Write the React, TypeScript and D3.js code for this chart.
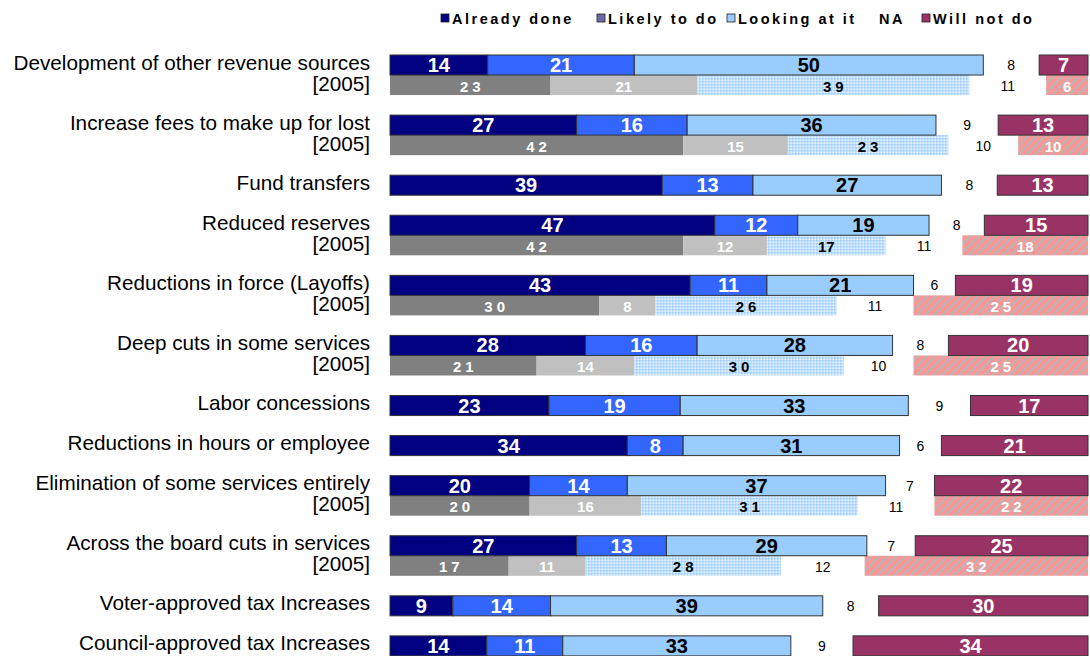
import React from "react";
import * as d3 from "d3";

const categories = [
  "Development of other revenue sources",
  "Increase fees to make up for lost",
  "Fund transfers",
  "Reduced reserves",
  "Reductions in force (Layoffs)",
  "Deep cuts in some services",
  "Labor concessions",
  "Reductions in hours or employee",
  "Elimination of some services entirely",
  "Across the board cuts in services",
  "Voter-approved tax Increases",
  "Council-approved tax Increases",
];

const seriesNames = ["Already done", "Likely to do", "Looking at it", "NA", "Will not do"];

const alreadyDone = [14, 27, 39, 47, 43, 28, 23, 34, 20, 27, 9, 14];
const likelyToDo = [21, 16, 13, 12, 11, 16, 19, 8, 14, 13, 14, 11];
const lookingAtIt = [50, 36, 27, 19, 21, 28, 33, 31, 37, 29, 39, 33];
const naValues = [8, 9, 8, 8, 6, 8, 9, 6, 7, 7, 8, 9];
const willNotDo = [7, 13, 13, 15, 19, 20, 17, 21, 22, 25, 30, 34];

const alreadyDone2005 = [23, 42, null, 42, 30, 21, null, null, 20, 17, null, null];
const likelyToDo2005 = [21, 15, null, 12, 8, 14, null, null, 16, 11, null, null];
const lookingAtIt2005 = [39, 23, null, 17, 26, 30, null, null, 31, 28, null, null];
const na2005 = [11, 10, null, 11, 11, 10, null, null, 11, 12, null, null];
const willNotDo2005 = [6, 10, null, 18, 25, 25, null, null, 22, 32, null, null];

const curFills = ["#000080", "#3366FF", "#99CCFF", "none", "#993366"];
const curText = ["#fff", "#fff", "#000", "#000", "#fff"];
const pastFills = ["#808080", "#C0C0C0", "url(#dots)", "none", "url(#stripes)"];
const pastText = ["#fff", "#fff", "#000", "#000", "#fff"];
const legendFills = ["#000080", "#6B6BA3", "#99CCFF", null, "#993366"];
const legendX = [441, 597, 727, 869, 922];

const FONT = "Arial, 'Liberation Sans', sans-serif";

export default function App() {
  const W = 1090, H = 656;
  const x0 = 390, x1 = 1088;
  const slot = 20.03;
  const top = 55;

  const rows: { cat: number; slotIdx: number }[] = [];
  let s = 0;
  categories.forEach((_, i) => {
    rows.push({ cat: i, slotIdx: s });
    s += alreadyDone2005[i] != null ? 3 : 2;
  });
  const y = d3.scaleLinear().domain([0, 1]).range([top, top + slot]);

  const curSeries = [alreadyDone, likelyToDo, lookingAtIt, naValues, willNotDo];
  const pastSeries = [alreadyDone2005, likelyToDo2005, lookingAtIt2005, na2005, willNotDo2005];

  const renderBar = (vals: number[], yTop: number, past: boolean, key: string) => {
    const total = d3.sum(vals);
    const xs = d3.scaleLinear().domain([0, total]).range([x0, x1]);
    const stack = d3.cumsum(vals);
    return (
      <g key={key}>
        {vals.map((v, k) => {
          const a = xs(stack[k] - v), b = xs(stack[k]);
          const fill = past ? pastFills[k] : curFills[k];
          const cx = (a + b) / 2;
          const cy = yTop + slot / 2;
          let fs: number, fw: string, ls: number;
          if (k === 3) { fs = 14; fw = "normal"; ls = 0; }
          else if (past) { fs = 15; fw = "bold"; ls = (k === 1 || (v < 20 && k !== 0)) ? 0 : 4; }
          else { fs = 20; fw = "bold"; ls = 0; }
          return (
            <g key={k}>
              {fill !== "none" && (
                <rect x={a} y={yTop} width={b - a} height={slot}
                  fill={fill}
                  stroke={past ? "none" : "#333"} strokeWidth={past ? 0 : 1} />
              )}
              <text x={cx + ls / 2} y={cy + (past ? 1 : 0)} textAnchor="middle" dominantBaseline="central"
                fontFamily={FONT} fontSize={fs} fontWeight={fw} letterSpacing={ls}
                fill={past ? pastText[k] : curText[k]}>{v}</text>
            </g>
          );
        })}
      </g>
    );
  };

  return (
    <svg width={W} height={H} style={{ display: "block", position: "absolute", left: 0, top: 0 }}>
      <defs>
        <pattern id="stripes" patternUnits="userSpaceOnUse" width="6" height="6" patternTransform="rotate(45)">
          <rect width="6" height="6" fill="#FF9494" />
          <rect width="2.4" height="6" fill="#BFB2B2" />
        </pattern>
        <pattern id="dots" patternUnits="userSpaceOnUse" width="3" height="3">
          <rect width="3" height="3" fill="#C2E0FF" />
          <rect width="1.5" height="1.5" fill="#9DCCFF" />
          <rect x="1.5" y="1.5" width="1.5" height="1.5" fill="#E2F0FF" />
        </pattern>
      </defs>
      <rect width={W} height={H} fill="#fff" />
      <g>
        {seriesNames.map((n, i) => (
          <g key={n}>
            {legendFills[i] && (
              <rect x={legendX[i]} y={14} width={8} height={8} fill={legendFills[i]!} stroke="#222" strokeWidth={0.8} />
            )}
            <text x={legendFills[i] ? legendX[i] + 11 : legendX[i] + 10} y={19} dominantBaseline="central"
              fontFamily={FONT} fontSize={14.5} fontWeight="bold" letterSpacing={2.5} fill="#000">{n}</text>
          </g>
        ))}
      </g>
      {rows.map(({ cat, slotIdx }) => {
        const cy = y(slotIdx);
        const cur = curSeries.map((arr) => arr[cat] as number);
        const hasPast = pastSeries[0][cat] != null;
        const past = pastSeries.map((arr) => arr[cat] as number);
        return (
          <g key={cat}>
            <text x={370} y={cy + slot / 2 - 3} textAnchor="end" dominantBaseline="central"
              fontFamily={FONT} fontSize={20.7} fill="#000">{categories[cat]}</text>
            {hasPast && (
              <text x={370} y={y(slotIdx + 1) + slot / 2 - 2} textAnchor="end" dominantBaseline="central"
                fontFamily={FONT} fontSize={20.7} fill="#000">[2005]</text>
            )}
            {hasPast && renderBar(past, y(slotIdx + 1), true, "p")}
            {renderBar(cur, cy, false, "c")}
          </g>
        );
      })}
    </svg>
  );
}
